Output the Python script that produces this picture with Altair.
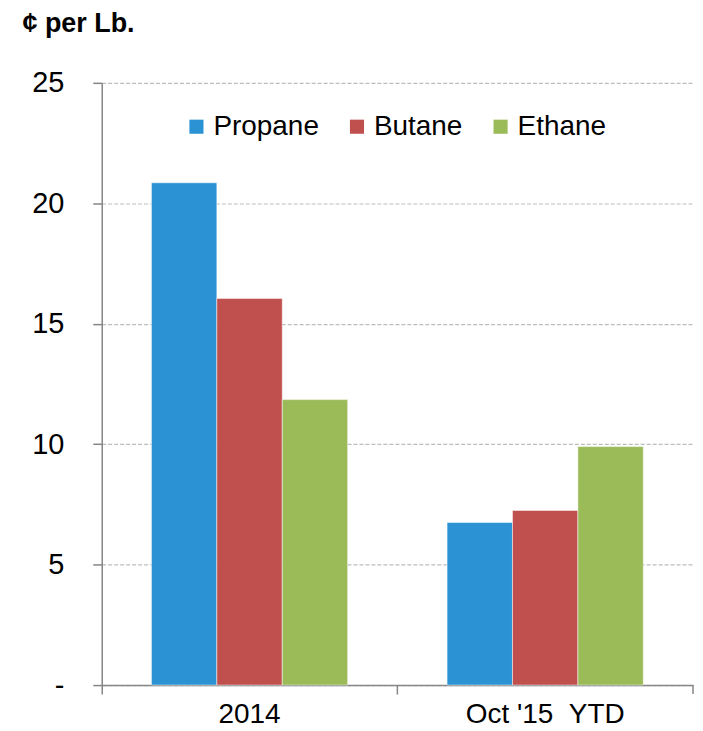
import altair as alt
import pandas as pd

periods = ["2014", "Oct '15\u00a0\u00a0YTD"]
products = ["Propane", "Butane", "Ethane"]
propane = [20.85, 6.75]
butane = [16.05, 7.25]
ethane = [11.85, 9.9]
colors = ["#2B92D4", "#C0504D", "#9BBB59"]
y_ticks = [0, 5, 10, 15, 20, 25]

rows = []
for i, p in enumerate(periods):
    for prod, vals in zip(products, [propane, butane, ethane]):
        rows.append({"period": p, "product": prod, "value": vals[i]})
df = pd.DataFrame(rows)

FONT = "Liberation Sans"

bars = alt.Chart(df).mark_bar(stroke="white", strokeWidth=0.5).encode(
    x=alt.X("period:N", sort=periods,
            scale=alt.Scale(paddingInner=0, paddingOuter=0),
            axis=alt.Axis(title=None, labelAngle=0, labelFontSize=28, labelColor="black",
                          labelFont=FONT, labelPadding=7, domainColor="#868686",
                          tickColor="#868686", tickSize=9, bandPosition=0,
                          domainWidth=1.5, tickWidth=1.5)),
    xOffset=alt.XOffset("product:N", sort=products,
                        scale=alt.Scale(paddingInner=0, paddingOuter=0.76)),
    y=alt.Y("value:Q", scale=alt.Scale(domain=[0, 25], nice=False),
            axis=alt.Axis(values=y_ticks, title="¢ per Lb.", titleAngle=0,
                          titleAlign="left", titleBaseline="alphabetic",
                          titleX=-80, titleY=-51, titleFont=FONT, titleFontSize=27,
                          titleFontWeight="bold", titleColor="black",
                          labelExpr="datum.value == 0 ? '-' : datum.label",
                          labelFontSize=29, labelFont=FONT, labelColor="black",
                          labelPadding=29, tickSize=9, tickColor="#868686",
                          domainColor="#868686", domainWidth=1.5, tickWidth=1.5,
                          grid=True, gridColor="#BDBDBD", gridDash=[4, 2],
                          gridWidth=1.2)),
    color=alt.Color("product:N", sort=products,
                    scale=alt.Scale(domain=products, range=colors),
                    legend=alt.Legend(title=None, orient="none", direction="horizontal",
                                      legendX=81, legendY=30, symbolType="square",
                                      symbolSize=200, symbolStrokeWidth=0,
                                      labelFontSize=28, labelFont=FONT,
                                      labelColor="black", columnPadding=24,
                                      labelOffset=3)),
)

edge = alt.Chart(pd.DataFrame({"period": [periods[-1]]})).mark_rule(
    color="#868686", strokeWidth=1.5).encode(
    x=alt.X("period:N", sort=periods, bandPosition=1),
    y=alt.value(604), y2=alt.value(613))

chart = alt.layer(bars, edge).properties(
    width=593, height=604,
    padding={"left": 94, "top": 74, "right": 2, "bottom": 46},
    autosize="none",
).configure_view(stroke=None)

chart.save("out.html", embed_options={"renderer": "svg", "actions": False})
